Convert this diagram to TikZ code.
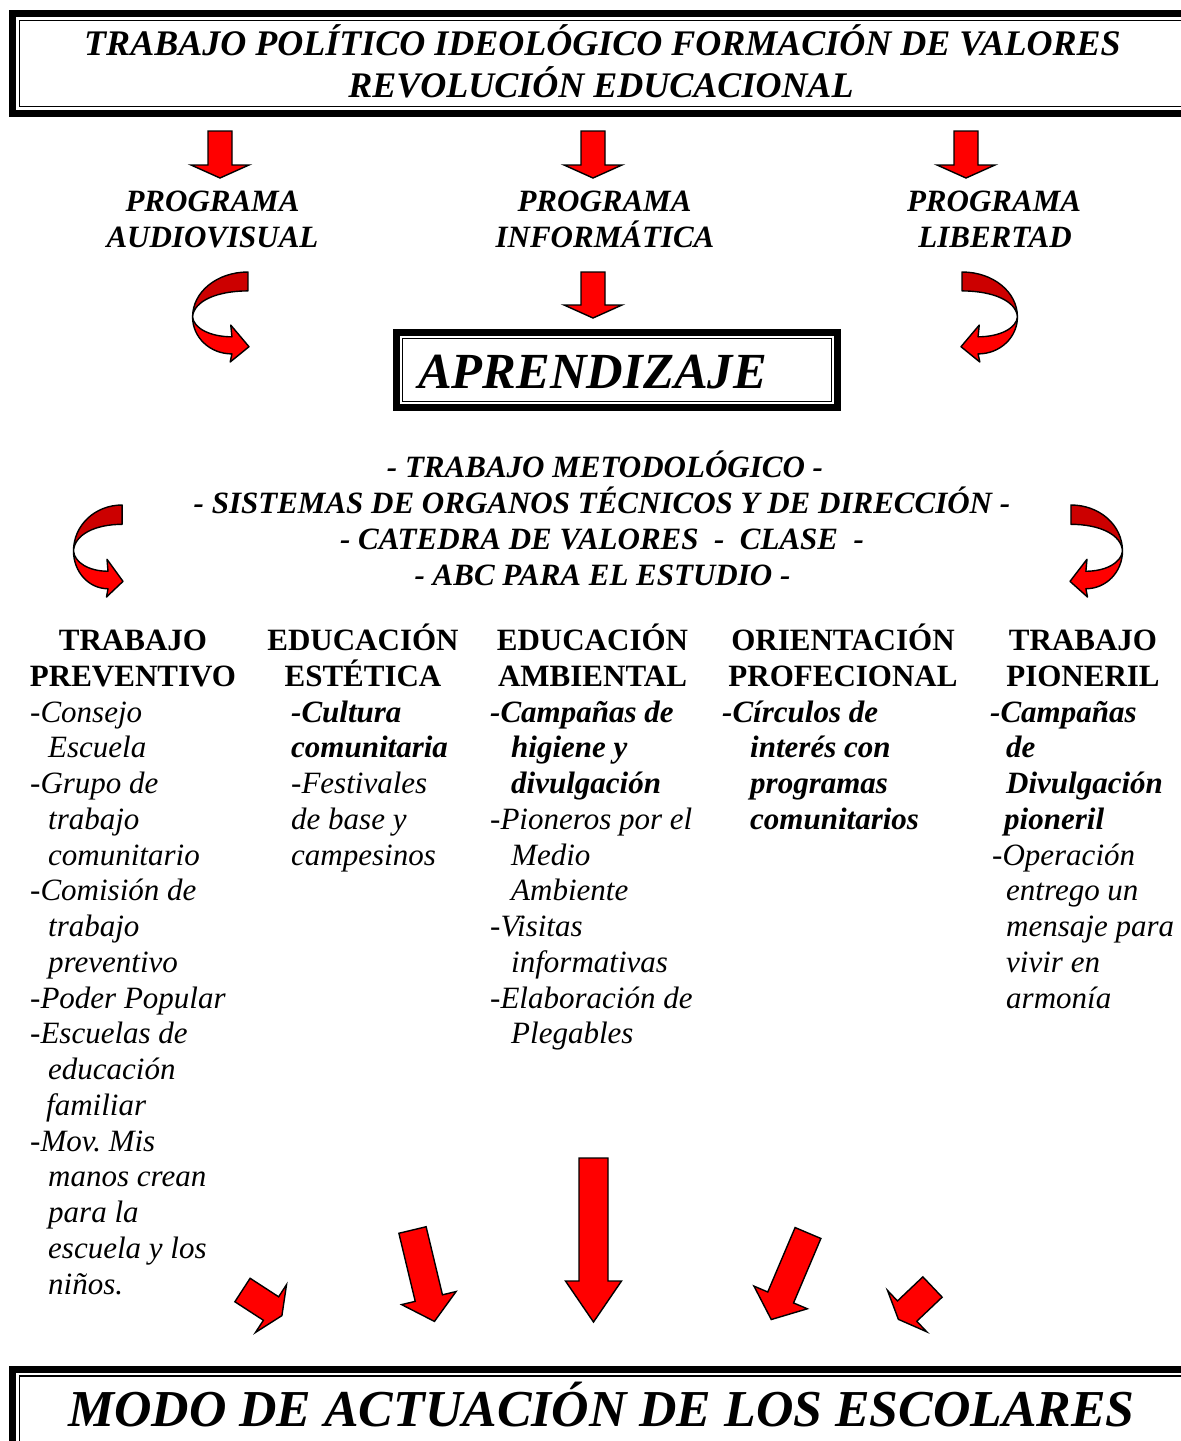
\documentclass[tikz,border=0pt]{standalone}
\usepackage{fontspec}
\setmainfont{Liberation Serif}
\frenchspacing
\definecolor{arrred}{HTML}{FF0000}
\definecolor{arrdark}{HTML}{CC0000}
\tikzset{
  arrowstyle/.style={draw=black, fill=arrred, line width=1.4pt, line join=miter},
  curvestyle/.style={draw=black, line width=1.4pt, line join=round},
  ttl/.style={font=\fontsize{36}{42}\selectfont\bfseries\itshape, inner sep=0pt, anchor=base},
  prog/.style={font=\fontsize{31}{36}\selectfont\bfseries\itshape, inner sep=0pt, anchor=base},
  hdr/.style={font=\fontsize{31}{36}\selectfont\bfseries, inner sep=0pt, anchor=base},
  item/.style={font=\fontsize{31}{36}\selectfont\itshape, inner sep=0pt, anchor=base west},
  big/.style={font=\fontsize{51}{60}\selectfont\bfseries\itshape, inner sep=0pt},
}
\newcommand\blockarrow[6]{%
  \begin{scope}[shift={#1},rotate=#2]
    \filldraw[arrowstyle] (0,{-#4/2}) -- ({#3-#6},{-#4/2}) -- ({#3-#6},{-#5/2}) -- (#3,0)
      -- ({#3-#6},{#5/2}) -- ({#3-#6},{#4/2}) -- (0,{#4/2}) -- cycle;
  \end{scope}}
\newcommand\curvedarrow[3]{%
  \begin{scope}[shift={#1},xscale=#2,yscale=#3]
    \filldraw[curvestyle, fill=arrdark] (0.982,0) .. controls (0.44,0) and (0.01,0.22) .. (0.01,0.5)
      .. controls (0.03,0.32) and (0.445,0.21) .. (0.982,0.21) -- cycle;
    \filldraw[curvestyle, fill=arrred] (0.01,0.5) .. controls (0.03,0.627) and (0.325,0.72) .. (0.70,0.72)
      -- (0.68,0.59) -- (1.0,0.83) -- (0.67,1.0) -- (0.70,0.91)
      .. controls (0.314,0.91) and (0.01,0.726) .. (0.01,0.5) -- cycle;
  \end{scope}}
\begin{document}
\begin{tikzpicture}[x=1pt,y=-1pt]
\useasboundingbox (0,0) rectangle (1181,1441);
\clip (0,0) rectangle (1181,1441);
% top frame
\draw[line width=7pt] (12.5,13.5) rectangle (1200,113);
\draw[line width=1.5pt] (19.5,20.5) rectangle (1200,106.5);
\node[ttl] (t1) at (602.5,55) {TRABAJO POLÍTICO IDEOLÓGICO FORMACIÓN DE VALORES};
\node[ttl] (t2) at (601,97) {REVOLUCIÓN EDUCACIONAL};
% top arrows
\blockarrow{(220,131)}{-90}{47}{24}{58}{13}
\blockarrow{(593,131)}{-90}{47}{24}{58}{13}
\blockarrow{(966,131)}{-90}{47}{24}{58}{13}
% programs
\node[prog] (p1a) at (212.5,211) {PROGRAMA};
\node[prog] (p1b) at (212.5,247) {AUDIOVISUAL};
\node[prog] (p2a) at (604.5,211) {PROGRAMA};
\node[prog] (p2b) at (605,247) {INFORMÁTICA};
\node[prog] (p3a) at (994,211) {PROGRAMA};
\node[prog] (p3b) at (995,247) {LIBERTAD};
% arrows to aprendizaje
\curvedarrow{(192,272)}{57}{90}
\curvedarrow{(1018,272)}{-57}{90}
\blockarrow{(593,272)}{-90}{46}{24}{58}{13}
% aprendizaje
\draw[line width=7pt] (396.5,332) rectangle (837,407.5);
\draw[line width=1.5pt] (402.5,338.5) rectangle (831.5,401.5);
\node[big, anchor=base west, font=\fontsize{50.6}{58}\selectfont\bfseries\itshape] (apr) at (418,388) {APRENDIZAJE};
% middle lines
\node[prog] (m1) at (605,477) {- TRABAJO METODOLÓGICO -};
\node[prog] (m2) at (602,513) {- SISTEMAS DE ORGANOS TÉCNICOS Y DE DIRECCIÓN -};
\node[prog] (m3) at (602,549) {- CATEDRA DE VALORES ~-~ CLASE ~-};
\node[prog] (m4) at (602.5,585) {- ABC PARA EL ESTUDIO -};
\curvedarrow{(73,505)}{50}{92}
\curvedarrow{(1123,505)}{-53}{92}
% headers
\node[hdr] (h1a) at (133,650) {TRABAJO};
\node[hdr] (h1b) at (133,686) {PREVENTIVO};
\node[hdr] (h2a) at (363,650) {EDUCACIÓN};
\node[hdr] (h2b) at (363,686) {ESTÉTICA};
\node[hdr] (h3a) at (592.5,650) {EDUCACIÓN};
\node[hdr] (h3b) at (592.5,686) {AMBIENTAL};
\node[hdr] (h4a) at (843,650) {ORIENTACIÓN};
\node[hdr] (h4b) at (843,686) {PROFECIONAL};
\node[hdr] (h5a) at (1083,650) {TRABAJO};
\node[hdr] (h5b) at (1083,686) {PIONERIL};
% column lists
\foreach \dx/\t [count=\i] in {0/-Consejo,18/Escuela,0/-Grupo de,18/trabajo,18/comunitario,0/-Comisión de,18/trabajo,18/preventivo,0/-Poder Popular,0/-Escuelas de,18/educación,16/familiar,0/-Mov. Mis,18/manos crean,18/para la,18/escuela y los,18/niños.}
  \node[item] (c1-\i) at ({30+\dx},{722+35.75*(\i-1)}) {\t};
\foreach \dx/\t [count=\i] in {0/{\bfseries -Cultura},0/{\bfseries comunitaria},0/-Festivales,0/de base y,0/campesinos}
  \node[item] (c2-\i) at ({291+\dx},{722+35.75*(\i-1)}) {\t};
\foreach \dx/\t [count=\i] in {0/{\bfseries -Campañas de},21/{\bfseries higiene y},21/{\bfseries divulgación},0/-Pioneros por el,21/Medio,21/Ambiente,0/-Visitas,21/informativas,0/-Elaboración de,21/Plegables}
  \node[item] (c3-\i) at ({490+\dx},{722+35.75*(\i-1)}) {\t};
\foreach \dx/\t [count=\i] in {0/{\bfseries -Círculos de},28/{\bfseries interés con},28/{\bfseries programas},28/{\bfseries comunitarios}}
  \node[item] (c4-\i) at ({722+\dx},{722+35.75*(\i-1)}) {\t};
\foreach \dx/\t [count=\i] in {0/{\bfseries -Campañas},16/{\bfseries de},16/{\bfseries Divulgación},14/{\bfseries pioneril},2/-Operación,16/entrego un,16/mensaje para,16/vivir en,16/armonía}
  \node[item] (c5-\i) at ({990+\dx},{722+35.75*(\i-1)}) {\t};
% bottom arrows
\blockarrow{(242.5,1290)}{-33}{47}{28}{57}{13}
\blockarrow{(412.5,1230)}{-76.5}{94}{28}{56}{24}
\blockarrow{(593.5,1158)}{-90}{164}{29}{56}{41}
\blockarrow{(808,1233)}{-113}{94}{28}{58}{24}
\blockarrow{(932.5,1287)}{-136.5}{47}{28}{57}{12}
% bottom frame
\draw[line width=7pt] (12.5,1369) rectangle (1200,1500);
\draw[line width=1.5pt] (19.5,1376) rectangle (1200,1500);
\node[big, anchor=base, font=\fontsize{51.8}{60}\selectfont\bfseries\itshape] (modo) at (601.5,1426) {MODO DE ACTUACIÓN DE LOS ESCOLARES};
\end{tikzpicture}
\end{document}
